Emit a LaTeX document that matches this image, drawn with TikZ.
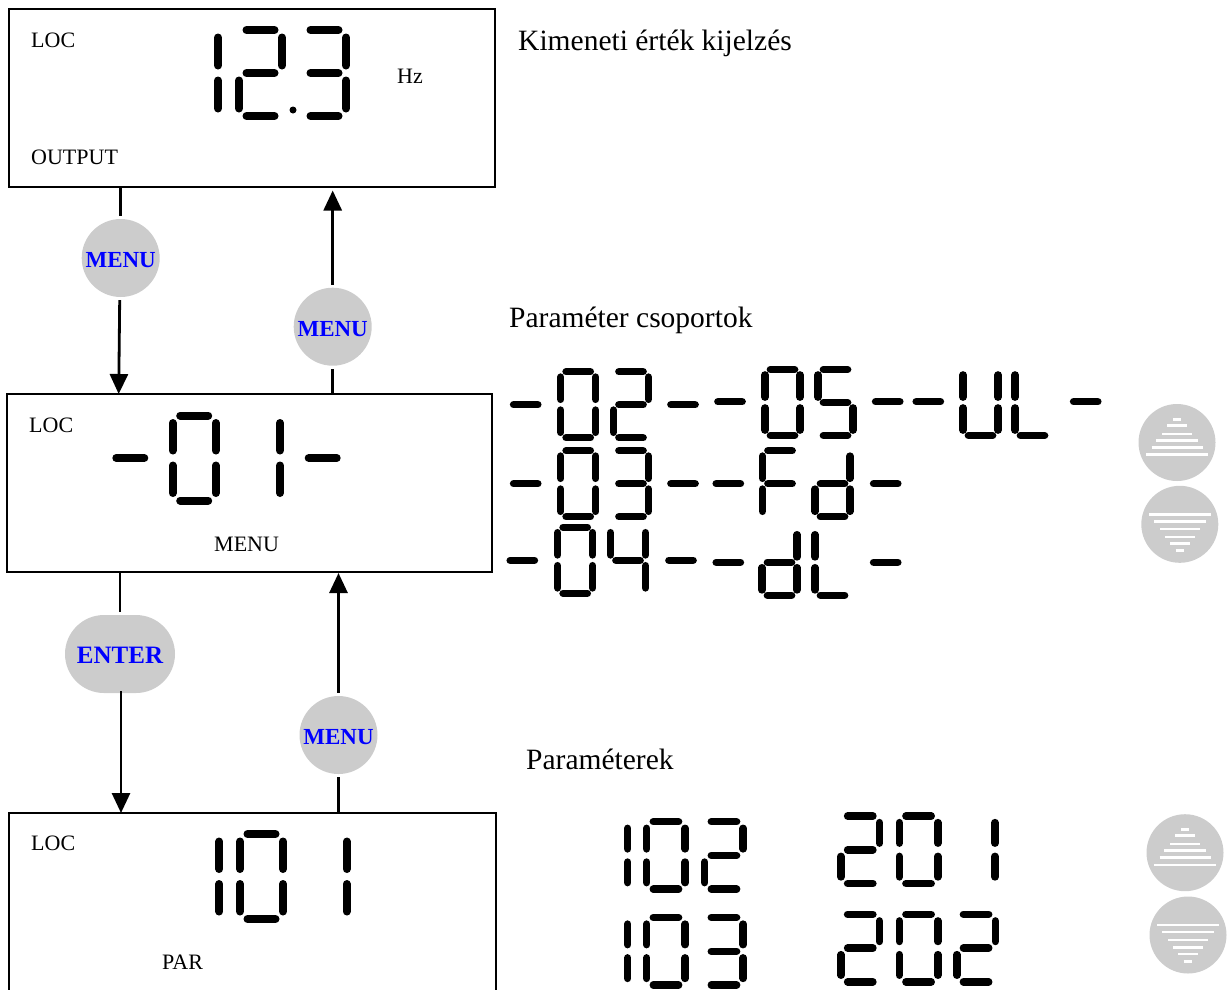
\documentclass[tikz,border=0pt]{standalone}
\usepackage{fontspec}
\setmainfont{Liberation Serif}
\usetikzlibrary{arrows.meta,shapes.misc}
\definecolor{btngray}{HTML}{CCCCCC}
\tikzset{
  lcdbox/.style={draw=black, line width=2.8pt, inner sep=0pt, outer sep=0pt},
  lbl/.style={font=\fontsize{22}{26}\selectfont, inner sep=0pt, anchor=west},
  title/.style={font=\fontsize{29.5}{34}\selectfont, inner sep=0pt, anchor=west},
  keybtn/.style={circle, fill=btngray, inner sep=0pt, minimum size=78pt, text=blue, text height=19pt, font=\fontsize{23}{26}\selectfont\bfseries},
  enterbtn/.style={rounded rectangle, fill=btngray, inner sep=0pt, minimum width=110pt, minimum height=78pt, text=blue, text height=18pt, font=\fontsize{25}{28}\selectfont\bfseries},
  padbtn/.style={circle, fill=btngray, inner sep=0pt, minimum size=77pt},
  stripe/.style={draw=white, line width=2.5pt},
  conn/.style={line width=2.8pt},
  connarrow/.style={line width=2.8pt, -{Triangle[length=20pt,width=18pt]}},
  segline/.style={line width=\seglw, line cap=round}
}
\newcommand{\sega}{(\segg,0) -- (\segw-\segg,0)}
\newcommand{\segb}{(\segw,\segg) -- (\segw,\segh/2-\segg)}
\newcommand{\segc}{(\segw,\segh/2+\segg) -- (\segw,\segh-\segg)}
\newcommand{\segd}{(\segg,\segh) -- (\segw-\segg,\segh)}
\newcommand{\sege}{(0,\segh/2+\segg) -- (0,\segh-\segg)}
\newcommand{\segf}{(0,\segg) -- (0,\segh/2-\segg)}
\newcommand{\segm}{(\segg,\segh/2) -- (\segw-\segg,\segh/2)}
\newcommand{\segdigit}[3]{%
  \begin{scope}[shift={(#1,#2)}]
    \foreach \s in {#3} {\draw[segline] \csname seg\s\endcsname;}
  \end{scope}}
\newcommand{\upbutton}[3]{%
  \node[padbtn] (#1) at (#2,#3) {};
  \foreach \dy/\hw in {-23.2/4.2,-17/9.7,-8.6/15.2,-2.1/20.8,4.9/25.5,12.2/30.8}
    \draw[stripe] ([shift={(-\hw,\dy)}]#1.center) -- ([shift={(\hw,\dy)}]#1.center);}
\newcommand{\downbutton}[3]{%
  \node[padbtn] (#1) at (#2,#3) {};
  \foreach \dy/\hw in {-9.8/31,-2.9/25.7,4.9/20,12.6/14.8,19.2/9.8,26.4/4.3}
    \draw[stripe] ([shift={(-\hw,\dy)}]#1.center) -- ([shift={(\hw,\dy)}]#1.center);}
\begin{document}
\begin{tikzpicture}[x=1pt, y=-1pt]
  \useasboundingbox (0,0) rectangle (1228,989);

  \node[lcdbox, minimum width=486pt, minimum height=178pt] (boxout) at (252,98) {};
  \node[lcdbox, minimum width=485pt, minimum height=178pt] (boxmenu) at (249.5,483) {};
  \node[lcdbox, minimum width=487pt, minimum height=182pt] (boxpar) at (252.5,904) {};

  \node[lbl] (locout) at (31,40) {LOC};
  \node[lbl] (hz) at (397,76) {Hz};
  \node[lbl] (output) at (31,157) {OUTPUT};
  \node[lbl] (locmenu) at (29,425) {LOC};
  \node[lbl] (menutxt) at (214,544) {MENU};
  \node[lbl] (locpar) at (31,843) {LOC};
  \node[lbl] (partxt) at (162,962) {PAR};

  \node[title] (titleout) at (518,43) {Kimeneti érték kijelzés};
  \node[title] (titlegroup) at (509,320) {Paraméter csoportok};
  \node[title] (titlepar) at (526,759) {Paraméterek};

  \node[keybtn] (menua) at (120.7,258) {MENU};
  \node[keybtn] (menub) at (332.7,326.7) {MENU};
  \node[enterbtn] (enter) at (120,654) {ENTER};
  \node[keybtn] (menuc) at (338.5,735) {MENU};

  \coordinate (inmenu) at (118.7,394);
  \coordinate (inout) at (332.7,190.5);
  \coordinate (inpar) at (121,813);
  \coordinate (inmenub) at (338.5,573);

  \draw[conn] (menua |- boxout.south) -- ([yshift=3pt]menua.north);
  \draw[connarrow] ([shift={(-1,3)}]menua.south) -- (inmenu);
  \draw[conn] (menub |- boxmenu.north) -- ([yshift=-3pt]menub.south);
  \draw[connarrow] ([yshift=3pt]menub.north) -- (inout);
  \draw[conn] (enter |- boxmenu.south) -- ([yshift=3pt]enter.north);
  \draw[connarrow] ([shift={(1,-2)}]enter.south) -- (inpar);
  \draw[conn] (menuc |- boxpar.north) -- ([yshift=-3pt]menuc.south);
  \draw[connarrow] ([yshift=3pt]menuc.north) -- (inmenub);

  \upbutton{upa}{1177}{442.5}
  \downbutton{downa}{1179.8}{524.3}
  \upbutton{upb}{1185}{852.7}
  \downbutton{downb}{1188}{935}

  \def\segw{43}\def\segh{86}\def\segg{7.5}\def\seglw{8pt}
  \segdigit{175}{30}{b,c}
  \segdigit{239}{30}{a,b,m,e,d}
  \segdigit{303}{30}{a,b,m,c,d}
  \fill (293,110) circle (3.5);

  \def\segh{85}
  \segdigit{108.8}{415.5}{m}
  \segdigit{172.7}{415.5}{a,b,c,d,e,f}
  \segdigit{237}{415.5}{b,c}
  \segdigit{301.2}{415.5}{m}

  \segdigit{176.3}{834}{b,c}
  \segdigit{240}{834}{a,b,c,d,e,f}
  \segdigit{303.7}{834}{b,c}

  \def\segw{35}\def\segh{66}\def\segg{5.4}\def\seglw{7.5pt}
  \segdigit{508.2}{371.7}{m}
  \segdigit{560.7}{371.7}{a,b,c,d,e,f}
  \segdigit{613.5}{371.7}{a,b,m,e,d}
  \segdigit{665.5}{371.7}{m}
  \segdigit{712.5}{368.7}{m}
  \segdigit{765}{369.5}{a,b,c,d,e,f}
  \segdigit{818}{369.5}{a,f,m,c,d}
  \segdigit{870.2}{368.7}{m}
  \segdigit{910.8}{368.7}{m}
  \segdigit{963}{369.5}{b,c,d,e,f}
  \segdigit{1015}{369.5}{f,e,d}
  \segdigit{1068.2}{368.7}{m}

  \segdigit{508.2}{450.7}{m}
  \segdigit{560.7}{450.7}{a,b,c,d,e,f}
  \segdigit{613.5}{450.7}{a,b,m,c,d}
  \segdigit{665.5}{450.7}{m}
  \segdigit{710.8}{450.7}{m}
  \segdigit{762.5}{450.7}{a,f,e,m}
  \segdigit{815}{450.7}{b,c,d,e,m}
  \segdigit{868.2}{450.7}{m}

  \segdigit{504.8}{527.3}{m}
  \segdigit{557.7}{527.3}{a,b,c,d,e,f}
  \segdigit{610.5}{527.3}{f,m,b,c}
  \segdigit{663.5}{527.3}{m}
  \segdigit{710.8}{529.3}{m}
  \segdigit{762}{529.3}{b,c,d,e,m}
  \segdigit{815}{529.3}{f,e,d}
  \segdigit{868.2}{529.3}{m}

  \def\segw{38.5}\def\segh{67.5}\def\segg{6.6}\def\seglw{7.5pt}
  \segdigit{589.2}{821.7}{b,c}
  \segdigit{646.7}{821.7}{a,b,c,d,e,f}
  \segdigit{704.7}{821.7}{a,b,m,e,d}
  \segdigit{841}{816}{a,b,m,e,d}
  \segdigit{899.3}{816}{a,b,c,d,e,f}
  \segdigit{956.5}{816}{b,c}

  \segdigit{589.2}{917.5}{b,c}
  \segdigit{646.7}{917.5}{a,b,c,d,e,f}
  \segdigit{704.7}{917.5}{a,b,m,c,d}
  \segdigit{841}{914.3}{a,b,m,e,d}
  \segdigit{899.3}{914.3}{a,b,c,d,e,f}
  \segdigit{956.8}{914.3}{a,b,m,e,d}
\end{tikzpicture}
\end{document}
